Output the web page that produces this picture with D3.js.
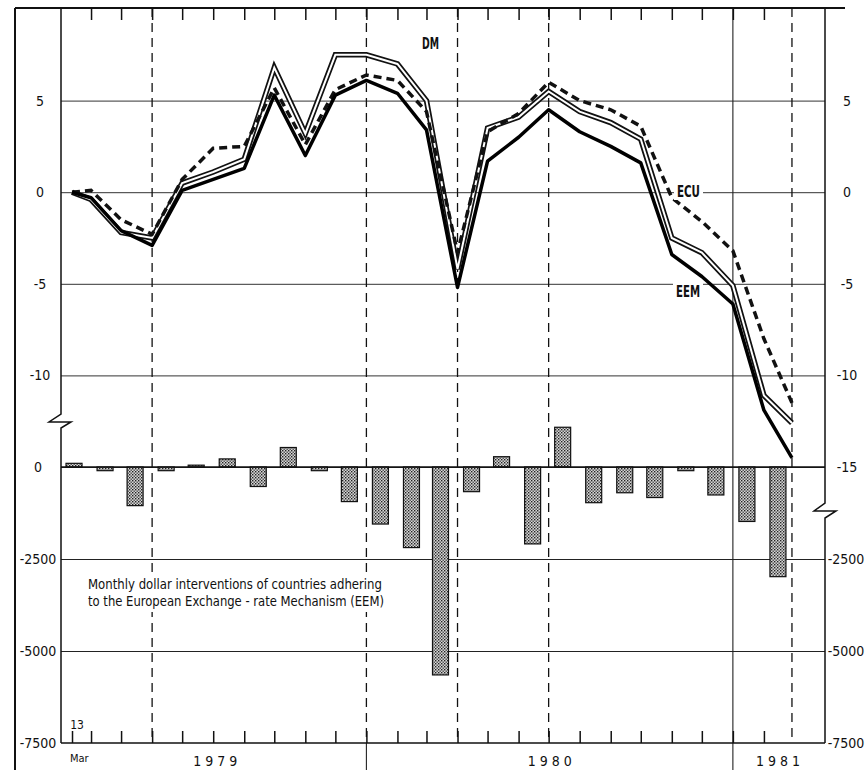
<!DOCTYPE html>
<html>
<head>
<meta charset="utf-8">
<script src="https://d3js.org/d3.v7.min.js"></script>
<style>
  body { margin: 0; background: #fff; }
  svg text { font-family: "DejaVu Sans Condensed", "Liberation Sans Narrow", "Liberation Sans", sans-serif; fill: #111; }
</style>
</head>
<body>
<svg id="chart"></svg>
<script>
// end-of-month observation dates (first one is the EMS start, 13 March 1979)
const lineDates = ['1979-03-13', '1979-03-31', '1979-04-30', '1979-05-31', '1979-06-30', '1979-07-31',
  '1979-08-31', '1979-09-30', '1979-10-31', '1979-11-30', '1979-12-31', '1980-01-31', '1980-02-29',
  '1980-03-31', '1980-04-30', '1980-05-31', '1980-06-30', '1980-07-31', '1980-08-31', '1980-09-30',
  '1980-10-31', '1980-11-30', '1980-12-31', '1981-01-31', '1981-02-28']
const dm = [0, -0.4, -2.2, -2.5, 0.5, 1.1, 1.8, 6.8, 3.2, 7.5, 7.5, 7.0, 5.0,
  -4.2, 3.5, 4.1, 5.5, 4.4, 3.8, 2.9, -2.5, -3.3, -5.1, -11.1, -12.6]
const ecu = [0, 0.1, -1.5, -2.3, 0.7, 2.4, 2.5, 5.7, 2.6, 5.6, 6.4, 6.1, 4.4,
  -3.3, 3.3, 4.3, 6.0, 5.0, 4.5, 3.6, -0.3, -1.6, -3.2, -8.0, -11.5]
const eem = [0, -0.3, -2.1, -2.9, 0.1, 0.7, 1.3, 5.3, 2.0, 5.3, 6.1, 5.4, 3.4,
  -5.2, 1.7, 3.0, 4.5, 3.3, 2.5, 1.6, -3.4, -4.6, -6.1, -11.9, -14.5]

// monthly dollar interventions (million $), one bar per month
const barMonths = ['1979-03', '1979-04', '1979-05', '1979-06', '1979-07', '1979-08', '1979-09', '1979-10',
  '1979-11', '1979-12', '1980-01', '1980-02', '1980-03', '1980-04', '1980-05', '1980-06', '1980-07',
  '1980-08', '1980-09', '1980-10', '1980-11', '1980-12', '1981-01', '1981-02']
const interventions = [100, -100, -1050, -100, 50, 220, -530, 530, -100, -940, -1550, -2190,
  -5650, -670, 280, -2090, 1080, -970, -700, -830, -100, -760, -1480, -2980]

const upperTicks = [5, 0, -5, -10, -15]
const lowerTicks = [0, -2500, -5000, -7500]
const dashedMarks = ['1979-05-31', '1979-12-31', '1980-03-31', '1980-06-30', '1981-02-28']
const yearBreaks = ['1979-12-31', '1980-12-31']
const yearLabels = [['1979', '1979-08-03'], ['1980', '1980-07-02'], ['1981', '1981-02-15']]

const width = 866, height = 770
const frame = { left: 61, right: 825, top: 8, bottom: 743, split: 467 }

const parseDay = d3.timeParse('%Y-%m-%d')
const parseMonth = d3.timeParse('%Y-%m')
// month-end values sit on the boundary with the next month
const endOf = s => s === lineDates[0] ? parseDay(s) : d3.timeDay.offset(parseDay(s), 1)

const svg = d3.select('#chart').attr('width', width).attr('height', height)

const defs = svg.append('defs')
const pat = defs.append('pattern').attr('id', 'stipple')
  .attr('width', 3).attr('height', 3).attr('patternUnits', 'userSpaceOnUse')
pat.append('rect').attr('width', 3).attr('height', 3).attr('fill', '#d6d6d6')
pat.append('rect').attr('x', 0).attr('y', 0).attr('width', 1.4).attr('height', 1.4).attr('fill', '#222')
pat.append('rect').attr('x', 1.5).attr('y', 1.5).attr('width', 1.4).attr('height', 1.4).attr('fill', '#444')

const x = d3.scaleTime()
  .domain([new Date(1979, 2, 1), new Date(1981, 3, 1)])
  .range([60, 823])
const yTop = d3.scaleLinear().domain([10, -15]).range([9, frame.split])
const yBot = d3.scaleLinear().domain([0, -7500]).range([frame.split, frame.bottom])

// horizontal grid
const gridW = frame.right - frame.left
svg.append('g')
  .attr('transform', `translate(${frame.left},0)`)
  .call(d3.axisLeft(yTop).tickValues([5, 0, -5, -10]).tickSize(-gridW).tickFormat(''))
  .call(g => g.select('.domain').remove())
  .call(g => g.selectAll('line').attr('stroke', '#333').attr('stroke-width', 1))
svg.append('g')
  .attr('transform', `translate(${frame.left},0)`)
  .call(d3.axisLeft(yBot).tickValues([0, -2500, -5000]).tickSize(-gridW).tickFormat(''))
  .call(g => g.select('.domain').remove())
  .call(g => g.selectAll('line').attr('stroke', '#222').attr('stroke-width', 1.2))

// vertical markers
svg.append('g').selectAll('line')
  .data(dashedMarks)
  .join('line')
  .attr('x1', d => x(endOf(d))).attr('x2', d => x(endOf(d)))
  .attr('y1', frame.top).attr('y2', frame.bottom)
  .attr('stroke', '#111').attr('stroke-width', 1.3)
  .attr('stroke-dasharray', '9,6')
svg.append('g').selectAll('line')
  .data(yearBreaks)
  .join('line')
  .attr('x1', d => x(endOf(d))).attr('x2', d => x(endOf(d)))
  .attr('y1', d => d === '1980-12-31' ? frame.top : frame.bottom)
  .attr('y2', height)
  .attr('stroke', '#222').attr('stroke-width', 1.1)

// bars
const bw = 16
svg.append('g').selectAll('rect')
  .data(barMonths)
  .join('rect')
  .attr('x', d => x(d3.timeDay.offset(parseMonth(d), 14)) - bw / 2)
  .attr('y', (d, i) => yBot(Math.max(0, interventions[i])))
  .attr('width', bw)
  .attr('height', (d, i) => Math.abs(yBot(interventions[i]) - yBot(0)))
  .attr('fill', 'url(#stipple)')
  .attr('stroke', '#111').attr('stroke-width', 1.2)

// text box over the lower panel
const note = svg.append('g')
note.append('rect').attr('x', 82).attr('y', 572).attr('width', 312).attr('height', 40).attr('fill', '#fff')
note.append('text').attr('x', 88).attr('y', 589).attr('font-size', 13.5)
  .attr('textLength', 294).attr('lengthAdjust', 'spacingAndGlyphs')
  .text('Monthly dollar interventions of countries adhering')
note.append('text').attr('x', 88).attr('y', 606).attr('font-size', 13.5)
  .attr('textLength', 296).attr('lengthAdjust', 'spacingAndGlyphs')
  .text('to the European Exchange - rate Mechanism (EEM)')

// exchange-rate lines
const line = vals => d3.line()
  .x((d, i) => x(endOf(lineDates[i])))
  .y(d => yTop(d))(vals)

svg.append('path').attr('d', line(dm)).attr('fill', 'none')
  .attr('stroke', '#111').attr('stroke-width', 5.5).attr('stroke-linejoin', 'miter')
svg.append('path').attr('d', line(dm)).attr('fill', 'none')
  .attr('stroke', '#fff').attr('stroke-width', 2).attr('stroke-linejoin', 'miter')
svg.append('path').attr('d', line(ecu)).attr('fill', 'none')
  .attr('stroke', '#111').attr('stroke-width', 3.5).attr('stroke-dasharray', '8,5')
svg.append('path').attr('d', line(eem)).attr('fill', 'none')
  .attr('stroke', '#000').attr('stroke-width', 3.5).attr('stroke-linejoin', 'round')

// series labels
const labels = [['DM', 422, 49, 17], ['ECU', 677, 197, 23], ['EEM', 676, 297, 24]]
labels.forEach(([t, lx, ly, lw]) => {
  if (t !== 'DM') {
    svg.append('rect').attr('x', lx - 3).attr('y', ly - 14).attr('width', lw + 6).attr('height', 17).attr('fill', '#fff')
  }
  svg.append('text').attr('x', lx).attr('y', ly).attr('font-size', 15).attr('font-weight', 'bold')
    .attr('textLength', lw).attr('lengthAdjust', 'spacingAndGlyphs').text(t)
})

// frame with axis breaks
svg.append('path')
  .attr('d', `M${frame.left},${frame.top}V414L49,422H71L${frame.left},428V${frame.bottom}`)
  .attr('fill', 'none').attr('stroke', '#111').attr('stroke-width', 1.5)
svg.append('path')
  .attr('d', `M${frame.right},${frame.top}V503L814,511H836L${frame.right},518V${frame.bottom}`)
  .attr('fill', 'none').attr('stroke', '#111').attr('stroke-width', 1.5)
svg.append('line').attr('x1', 15).attr('x2', 845).attr('y1', frame.top).attr('y2', frame.top)
  .attr('stroke', '#111').attr('stroke-width', 2)
svg.append('line').attr('x1', 15).attr('x2', 15).attr('y1', frame.top).attr('y2', height)
  .attr('stroke', '#111').attr('stroke-width', 2)
svg.append('line').attr('x1', frame.left).attr('x2', frame.right).attr('y1', frame.split).attr('y2', frame.split)
  .attr('stroke', '#111').attr('stroke-width', 1.3)

// month ticks, inside the frame at top and bottom
const tickDates = lineDates.slice(1, 24).map(endOf)
svg.append('g').attr('transform', `translate(0,${frame.top})`)
  .call(d3.axisBottom(x).tickValues(tickDates).tickSize(12).tickFormat(''))
  .call(g => g.select('.domain').remove())
  .call(g => g.selectAll('line').attr('stroke', '#111').attr('stroke-width', 1.5))
svg.append('g').attr('transform', `translate(0,${frame.bottom})`)
  .call(d3.axisTop(x).tickValues([parseDay(lineDates[0])].concat(tickDates)).tickSize(12).tickFormat(''))
  .call(g => g.select('path.domain').attr('d', `M${frame.left},0H${frame.right}`).attr('stroke', '#111').attr('stroke-width', 1.5))
  .call(g => g.selectAll('line').attr('stroke', '#111').attr('stroke-width', 1.5))

// value labels, centred in the margins
const fmt = d => String(d)
const styleLabels = g => {
  g.select('.domain').remove()
  g.selectAll('text').attr('font-size', 14).attr('font-family', null).attr('fill', '#111')
    .attr('text-anchor', 'middle')
}
svg.append('g').attr('transform', `translate(${frame.left},0)`)
  .call(d3.axisLeft(yTop).tickValues(upperTicks.slice(0, 4)).tickSize(0).tickPadding(21).tickFormat(fmt))
  .call(styleLabels)
svg.append('g').attr('transform', `translate(${frame.left},0)`)
  .call(d3.axisLeft(yBot).tickValues(lowerTicks).tickSize(0).tickPadding(23).tickFormat(fmt))
  .call(styleLabels)
svg.append('g').attr('transform', `translate(${frame.right},0)`)
  .call(d3.axisRight(yTop).tickValues(upperTicks).tickSize(0).tickPadding(22).tickFormat(fmt))
  .call(styleLabels)
svg.append('g').attr('transform', `translate(${frame.right},0)`)
  .call(d3.axisRight(yBot).tickValues(lowerTicks.slice(1)).tickSize(0).tickPadding(21).tickFormat(fmt))
  .call(styleLabels)

// date labels
svg.append('text').attr('x', 77).attr('y', 729).attr('font-size', 12)
  .attr('text-anchor', 'middle').text('13')
svg.append('text').attr('x', 70).attr('y', 762).attr('font-size', 11).text('Mar')
svg.append('g').selectAll('text')
  .data(yearLabels)
  .join('text')
  .attr('x', d => x(parseDay(d[1])) - 22)
  .attr('y', 766)
  .attr('font-size', 14)
  .attr('textLength', 44)
  .attr('lengthAdjust', 'spacing')
  .text(d => d[0])
</script>
</body>
</html>
